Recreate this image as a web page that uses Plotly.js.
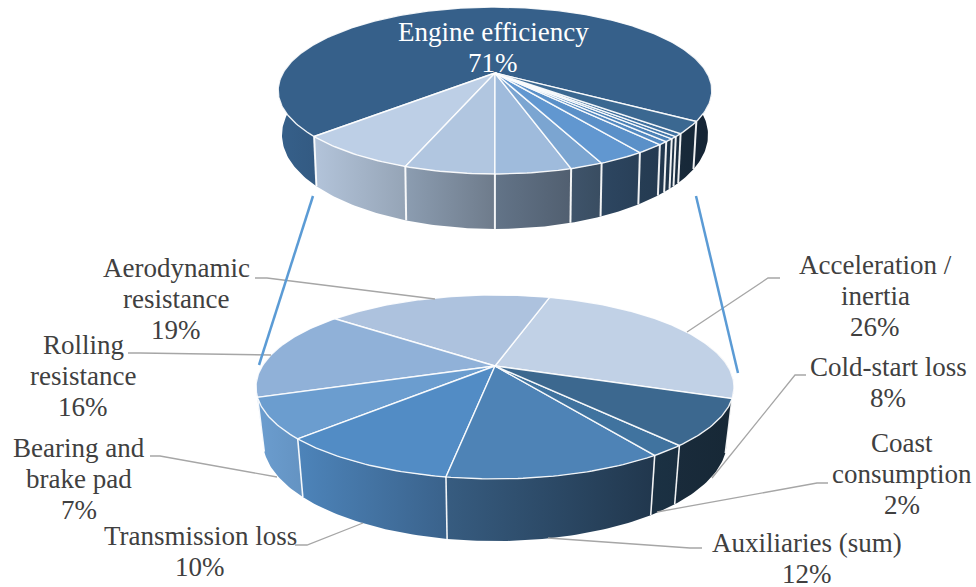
<!DOCTYPE html>
<html>
<head>
<meta charset="utf-8">
<script src="https://cdn.plot.ly/plotly-3.0.1.min.js"></script>
<style>html,body{margin:0;padding:0;background:#fff}#chart{width:976px;height:587px}</style>
</head>
<body>
<div id="chart"></div>
<script>
// Energy breakdown: overall efficiency on top, loss split in the lower pie (percent).
const lossLabels = ['Acceleration /<br>inertia', 'Aerodynamic<br>resistance', 'Rolling<br>resistance',
  'Bearing and<br>brake pad', 'Transmission loss', 'Auxiliaries (sum)', 'Coast<br>consumption', 'Cold-start loss'];
const lossValues = [26, 19, 16, 7, 10, 12, 2, 8];
const lossColors = ['#C1D1E6', '#ADC2DE', '#90B1D8', '#6B9DCF', '#528CC5', '#4E83B6', '#40739F', '#3C688F'];

// Upper pie: share of total fuel energy; auxiliaries are shown as four separate consumers.
const overallLabels = ['Engine efficiency', 'Acceleration', 'Aerodynamic', 'Rolling', 'Bearing and brake pad',
  'Transmission', 'Auxiliary 1', 'Auxiliary 2', 'Auxiliary 3', 'Auxiliary 4', 'Coast', 'Cold start'];
const overallValues = [71, 7.54, 5.51, 4.64, 2.03, 2.9, 1.79, 0.64, 0.59, 0.46, 0.58, 2.32];
const overallColors = ['#36608A', '#BDCFE6', '#B1C6E0', '#9FBBDC', '#7BA5D1', '#6197D0',
  '#5A90C8', '#5389C0', '#4B81B6', '#4579AB', '#40719F', '#3B6891'];

// Perspective discs: the rim is a circle seen from above, its centre maps to (cx, cy).
const upperPie = {
  start: 57.4,
  top:  {cx: 495, cy: 73,    a: 212,   b: 79.8, k: 0.2096},
  base: {cx: 495, cy: 114.5, a: 207.9, b: 89.5, k: 0.218},
  xMin: 278, xMax: 712, sep: 2
};
const lowerPie = {
  start: 69.8,
  top:  {cx: 495, cy: 366,   a: 232.7, b: 87.2, k: 0.228},
  base: {cx: 495, cy: 417.6, a: 225.6, b: 94.6, k: 0.2337},
  xMin: 256, xMax: 734, sep: 1.6
};

// Label placement: centre of each text block, and the leader polyline running to its slice.
const lossLabelX = [875, 176, 83, 79, 200, 807, 902, 888];
const lossLabelY = [296, 299, 376, 479, 551, 558, 474, 382];
const leaderX = [[780,768,687],[255,267,435],[128,140,271],[150,160,277],[295,307,363],[702,690,548],[828,817,657],[806,795,712]];
const leaderY = [[278,278,332],[278,278,299],[353,353,355],[456,456,477],[545,545,523],[548,548,538],[483,483,512],[375,375,478]];
const connectors = [{x: [313, 259], y: [196, 365]}, {x: [696, 738], y: [196, 373]}];

const TEXT_FONT = 'Liberation Serif, Times New Roman, serif';
const TEXT_SIZE = 27, LINE_STEP = 31;

function project(d, deg) {
  const t = deg * Math.PI / 180, u = Math.sin(t), v = Math.cos(t), w = 1 - d.k * v;
  return [d.cx + d.a * u / w, d.cy + d.b * v / w];
}
function arc(d, s, e) {
  const n = Math.max(2, Math.ceil(Math.abs(e - s))), pts = [];
  for (let i = 0; i <= n; i++) pts.push(project(d, s + (e - s) * i / n));
  return pts;
}
// Side wall shading falls off from left to right.
const lightT = [0, 0.2, 0.5, 0.8, 1], lightV = [1, 0.87, 0.62, 0.43, 0.38];
function lightAt(t) {
  t = Math.min(1, Math.max(0, t));
  for (let i = 1; i < lightT.length; i++) {
    if (t <= lightT[i]) {
      const f = (t - lightT[i - 1]) / (lightT[i] - lightT[i - 1]);
      return lightV[i - 1] + (lightV[i] - lightV[i - 1]) * f;
    }
  }
  return lightV[lightV.length - 1];
}
function shade(hex, f) {
  const c = [1, 3, 5].map(i => Math.round(parseInt(hex.substr(i, 2), 16) * f));
  return 'rgb(' + c.join(',') + ')';
}
function poly(pts, extra) {
  return Object.assign({
    x: pts.map(p => p[0]), y: pts.map(p => p[1]), type: 'scatter', mode: 'lines',
    hoverinfo: 'skip', showlegend: false
  }, extra);
}

function pieTraces(pie, values, colors, names) {
  const total = values.reduce((a, b) => a + b, 0), sides = [], seps = [], faces = [];
  const VISIBLE = 105;
  let angle = pie.start;
  values.forEach((val, i) => {
    const s = angle, e = angle + 360 * val / total;
    angle = e;
    // Wall segments on the camera-facing half only.
    [-360, 0, 360, 720].forEach(off => {
      const a = Math.max(s, off - VISIBLE), b = Math.min(e, off + VISIBLE);
      if (b <= a) return;
      const upper = arc(pie.top, a, b), lower = arc(pie.base, b, a);
      const pts = upper.concat(lower);
      pts.push(upper[0]);
      const xs = pts.map(p => p[0]);
      const x0 = Math.min.apply(null, xs), x1 = Math.max.apply(null, xs);
      const span = pie.xMax - pie.xMin;
      sides.push(poly(pts, {
        name: names[i] + ' side', fill: 'toself', line: {width: 0},
        fillcolor: colors[i],
        fillgradient: {type: 'horizontal', colorscale: [
          [0, shade(colors[i], lightAt((x0 - pie.xMin) / span))],
          [1, shade(colors[i], lightAt((x1 - pie.xMin) / span))]
        ]}
      }));
    });
    // White seam at the start of each slice where it meets the wall.
    const norm = ((s + 180) % 360 + 360) % 360 - 180;
    if (Math.abs(norm) < 85) {
      seps.push(poly([project(pie.top, s), project(pie.base, s)], {
        name: names[i] + ' seam', line: {color: 'rgba(255,255,255,0.92)', width: pie.sep}
      }));
    }
    const face = [[pie.top.cx, pie.top.cy]].concat(arc(pie.top, s, e));
    face.push([pie.top.cx, pie.top.cy]);
    faces.push(poly(face, {
      name: names[i], fill: 'toself', fillcolor: colors[i],
      line: {color: 'rgba(255,255,255,0.9)', width: 1.4}
    }));
  });
  return sides.concat(seps, faces);
}

const traces = pieTraces(upperPie, overallValues, overallColors, overallLabels)
  .concat(pieTraces(lowerPie, lossValues, lossColors, lossLabels));

// Each text line is its own annotation so the line pitch stays tighter than the default.
function textBlock(text, x, yMid, color) {
  const lines = text.split('<br>');
  return lines.map((line, i) => ({
    x: x, y: yMid + (i - (lines.length - 1) / 2) * LINE_STEP, xref: 'x', yref: 'y',
    showarrow: false, xanchor: 'center', yanchor: 'middle', align: 'center',
    text: line, font: {family: TEXT_FONT, size: TEXT_SIZE, color: color}
  }));
}
let annotations = [];
lossLabels.forEach((label, i) => {
  annotations = annotations.concat(textBlock(label + '<br>' + lossValues[i] + '%', lossLabelX[i], lossLabelY[i], '#404040'));
});
annotations = annotations.concat(textBlock(overallLabels[0] + '<br>' + overallValues[0] + '%', 493, 47, '#FFFFFF'));

const pathOf = (xs, ys) => 'M' + xs.map((x, i) => x + ',' + ys[i]).join('L');
const shapes = leaderX.map((xs, i) => ({
  type: 'path', xref: 'x', yref: 'y', layer: 'above', path: pathOf(xs, leaderY[i]),
  line: {color: '#A6A6A6', width: 1.3}
})).concat(connectors.map(c => ({
  type: 'line', xref: 'x', yref: 'y', layer: 'above',
  x0: c.x[0], y0: c.y[0], x1: c.x[1], y1: c.y[1],
  line: {color: '#5B9BD5', width: 2.5}
})));

Plotly.newPlot('chart', traces, {
  width: 976, height: 587, margin: {l: 0, r: 0, t: 0, b: 0},
  paper_bgcolor: '#fff', plot_bgcolor: '#fff', showlegend: false,
  xaxis: {range: [0, 976], visible: false, fixedrange: true},
  yaxis: {range: [587, 0], visible: false, fixedrange: true},
  annotations: annotations, shapes: shapes
}, {displayModeBar: false, staticPlot: true});
</script>
</body>
</html>
